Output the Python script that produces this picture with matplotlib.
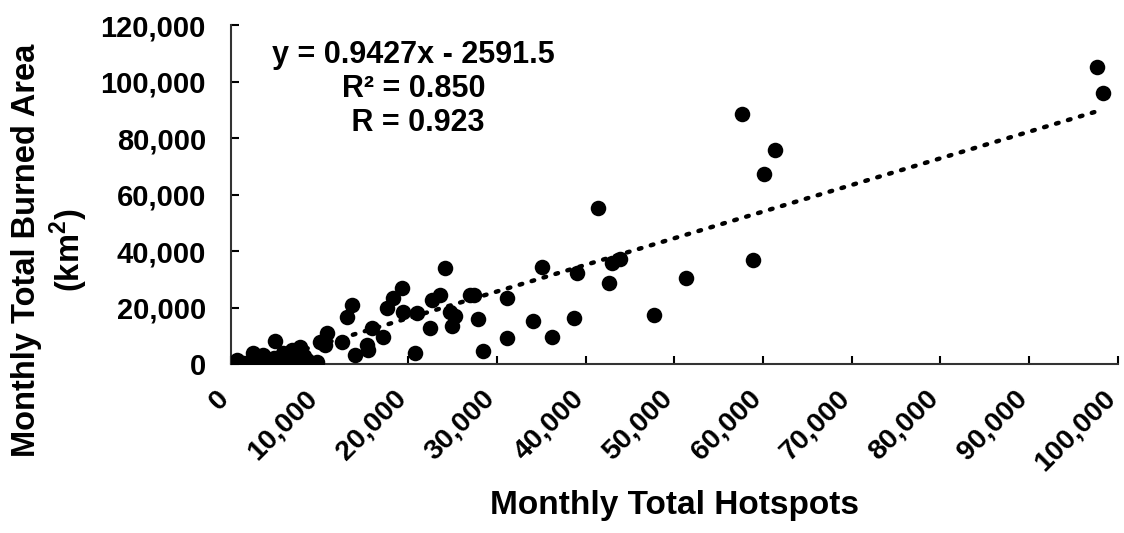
import matplotlib.pyplot as plt
import matplotlib.transforms as mtransforms
import numpy as np
from matplotlib.ticker import FuncFormatter

plt.rcParams["font.family"] = ["Liberation Sans", "DejaVu Sans"]
plt.rcParams["font.weight"] = "bold"
plt.rcParams["mathtext.fontset"] = "custom"
plt.rcParams["mathtext.bf"] = "Liberation Sans:bold"
plt.rcParams["mathtext.rm"] = "Liberation Sans:bold"

# monthly total hotspots vs monthly total burned area (km2)
hotspots = [97600, 98300, 57600, 61400, 60100, 58900, 41400, 51300, 47700, 43900,
            43000, 42600, 39000, 38700, 36200, 35100, 34000, 31100, 31100, 28400,
            27800, 27400, 26900, 25300, 24900, 24700, 24100, 23600, 22700, 22400,
            21000, 19400, 20700, 19300, 18300, 17600, 13600, 13100, 15900, 17100,
            15400, 15300, 14000, 12500, 10800, 10000, 10600, 5000, 7800, 6900,
            9700, 8600, 8200, 2500, 3600, 700, 300, 5900, 6700, 5500,
            1400, 4400, 3300, 2000, 1000, 4800, 7500, 9000]
burned = [105100, 95900, 88500, 75800, 67300, 37000, 55200, 30400, 17300, 37200,
          35800, 28700, 32200, 16300, 9600, 34300, 15200, 23400, 9200, 4600,
          15900, 24400, 24400, 17000, 13400, 18400, 34000, 24400, 22700, 12700,
          18000, 18400, 3900, 26900, 23400, 19800, 20900, 16600, 12700, 9600,
          5000, 6700, 3200, 7800, 11000, 7800, 6700, 8000, 6000, 5000,
          700, 1400, 2800, 3900, 3200, 1400, 350, 3900, 1400, 350,
          350, 700, 300, 800, 200, 2000, 800, 300]

slope = 0.9427
intercept = -2591.5
fit_text = "y = 0.9427x - 2591.5\nR² = 0.850\n R = 0.923"

x_ticks = list(range(0, 100001, 10000))
y_ticks = list(range(0, 120001, 20000))


def plot_scatter():
    fig = plt.figure(figsize=(11.24, 5.33), dpi=100)
    ax = fig.add_axes([0.2055, 0.317, 0.789, 0.636])

    ax.scatter(hotspots, burned, s=125, color="black", zorder=3, linewidths=0)

    xs = np.array([min(hotspots), max(hotspots)])
    ax.plot(xs, slope * xs + intercept, color="black", linestyle=(0, (0.6, 2.2)),
            linewidth=3.2, dash_capstyle="round", zorder=2)

    ax.set_xlim(0, 100000)
    ax.set_ylim(0, 120000)
    ax.set_xticks(x_ticks)
    ax.set_yticks(y_ticks)
    fmt = FuncFormatter(lambda v, p: f"{int(v):,}")
    ax.xaxis.set_major_formatter(fmt)
    ax.yaxis.set_major_formatter(fmt)
    ax.tick_params(direction="in", length=6, width=1.5, labelsize=21)
    ax.tick_params(axis="y", pad=18)
    ax.tick_params(axis="x", pad=22, labelsize=20.5)
    # nudge the rotated labels a little left so the last one stays inside
    shift = mtransforms.ScaledTranslation(-6 / 100, 0, fig.dpi_scale_trans)
    for lab in ax.get_xticklabels():
        lab.set_rotation(45)
        lab.set_ha("right")
        lab.set_va("center")
        lab.set_rotation_mode("anchor")
        lab.set_transform(lab.get_transform() + shift)

    for side in ("top", "right"):
        ax.spines[side].set_visible(False)
    for side in ("left", "bottom"):
        ax.spines[side].set_linewidth(1.5)
        ax.spines[side].set_color("#333333")

    ax.text(0.206, 0.955, fit_text, transform=ax.transAxes, ha="center", va="top",
            fontsize=22, fontweight="bold", linespacing=1.17)

    fig.text(0.6, 0.052, "Monthly Total Hotspots", ha="center", va="center",
             fontsize=24, fontweight="bold")
    fig.text(0.045, 0.53, "Monthly Total Burned Area\n(km$^{\\mathbf{2}}$)",
             ha="center", va="center", rotation=90, fontsize=23.5,
             fontweight="bold", linespacing=1.2)

    fig.savefig("out.png", dpi=100)


if __name__ == "__main__":
    plot_scatter()
